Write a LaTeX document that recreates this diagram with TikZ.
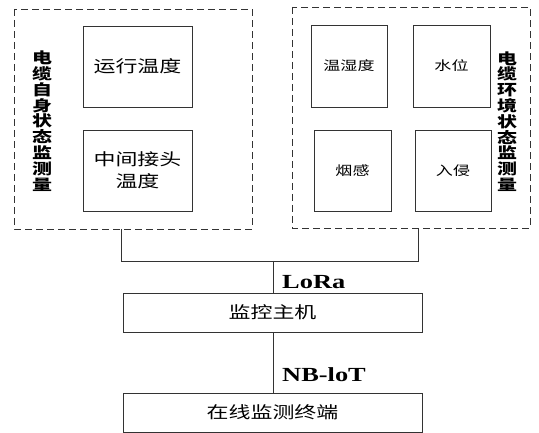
\documentclass[tikz,border=0pt]{standalone}
\usepackage{fontspec}
\setmainfont{Liberation Serif}[FakeStretch=1.32]
\newfontfamily\cjk{Noto Sans CJK SC}[FakeStretch=1.33]
\usetikzlibrary{positioning}
\tikzset{
  box/.style={draw=black!80, line width=0.9pt},
  dbox/.style={draw=black!80, line width=0.9pt, dash pattern=on 7pt off 4pt},
  conn/.style={draw=black!80, line width=0.9pt},
  lbl/.style={inner sep=0pt, font=\cjk\fontsize{16.5}{22}\selectfont, align=center},
  slbl/.style={inner sep=0pt, font=\cjk\fontsize{12.8}{16}\selectfont},
  vlbl/.style={inner sep=0pt, align=center, font=\cjk\bfseries\fontsize{15}{15.8}\selectfont},
  proto/.style={inner sep=0pt, anchor=west, font=\bfseries\fontsize{20}{22}\selectfont}
}
\begin{document}
\begin{tikzpicture}[x=1pt,y=-1pt]
\useasboundingbox (0,0) rectangle (539,433);
% left group
\draw[dbox] (14,9) rectangle (252,229);
\node[box, minimum width=109pt, minimum height=81pt, inner sep=0pt] (run) at (137.5,66.5) {};
\node[lbl] at (run) {运行温度};
\node[box, minimum width=109pt, minimum height=81pt, inner sep=0pt] (joint) at (137.5,170.5) {};
\node[lbl] at (joint) {中间接头\\温度};
\node[vlbl] (lt) at (42,121) {电\\缆\\自\\身\\状\\态\\监\\测\\量};
% right group
\draw[dbox] (292,7) rectangle (530,228);
\node[box, minimum width=76pt, minimum height=82pt, inner sep=0pt] (hum) at (349,66) {};
\node[slbl] at (hum) {温湿度};
\node[box, minimum width=77pt, minimum height=82pt, inner sep=0pt] (water) at (451.5,66) {};
\node[slbl] at (water) {水位};
\node[box, minimum width=77pt, minimum height=81pt, inner sep=0pt] (smoke) at (352.5,170.5) {};
\node[slbl] at (smoke) {烟感};
\node[box, minimum width=76pt, minimum height=81pt, inner sep=0pt] (intr) at (453,170.5) {};
\node[slbl] at (intr) {入侵};
\node[vlbl] (rt) at (507,121.5) {电\\缆\\环\\境\\状\\态\\监\\测\\量};
% lower boxes
\node[box, minimum width=299pt, minimum height=39pt, inner sep=0pt] (host) at (272.5,312.5) {};
\node[lbl] at (host) {监控主机};
\node[box, minimum width=299pt, minimum height=39pt, inner sep=0pt] (term) at (272.5,412.5) {};
\node[lbl] at (term) {在线监测终端};
% connectors
\coordinate (lb) at (121,229);
\coordinate (rb) at (418,228);
\coordinate (jl) at (121,261);
\coordinate (jr) at (418,261);
\coordinate (jm) at (273,261);
\draw[conn] (lb) -- (jl) -- (jr) -- (rb);
\draw[conn] (jm) -- (jm |- host.north);
\draw[conn] (jm |- host.south) -- (jm |- term.north);
\node[proto] at (282,282) {LoRa};
\node[proto] at (282,375) {NB-loT};
\end{tikzpicture}
\end{document}
